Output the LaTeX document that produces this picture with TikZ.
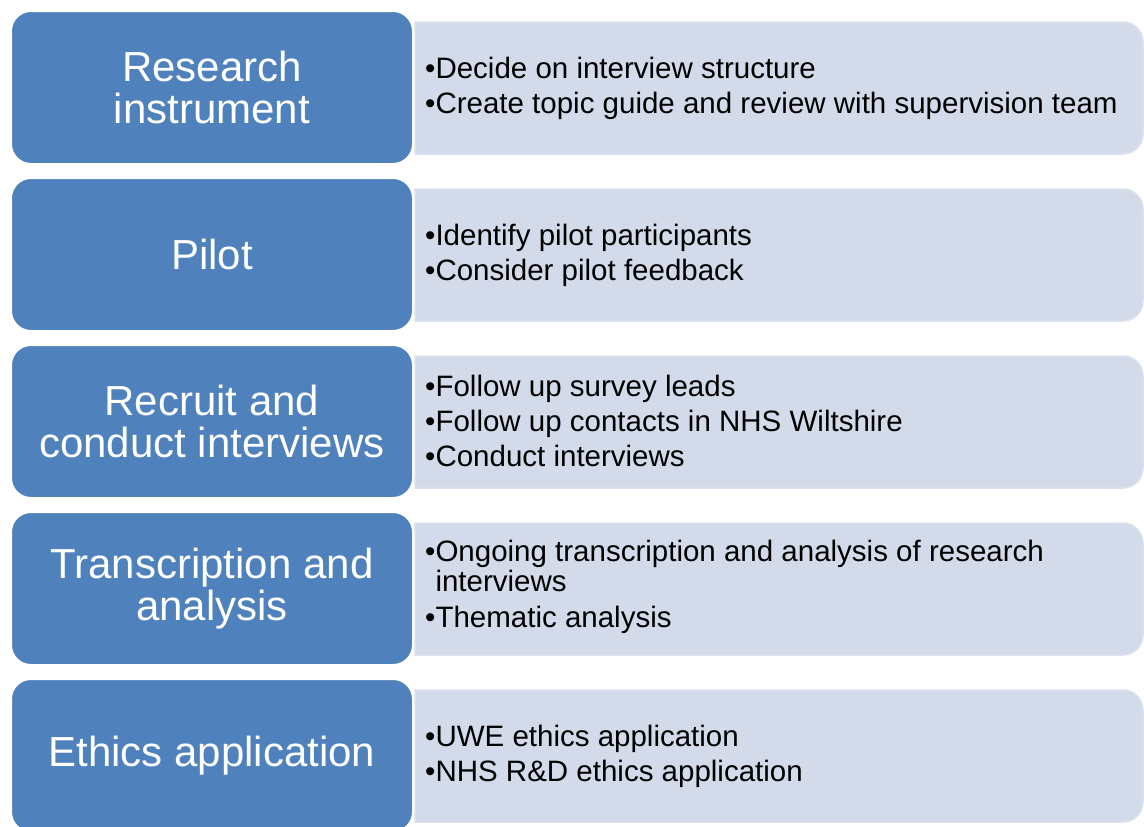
\documentclass[tikz,border=0pt]{standalone}
\usepackage{fontspec}
\setmainfont{Liberation Sans}
\definecolor{stepblue}{HTML}{4F81BD}
\definecolor{stepfill}{HTML}{D3DAEA}
\definecolor{stepedge}{HTML}{DCE1EE}
\tikzset{
  x=1pt, y=-1pt,
  headbox/.style={rectangle, rounded corners=20pt, fill=stepblue, draw=white, line width=2pt,
    minimum width=402pt, minimum height=153pt, inner sep=0pt, text=white, align=center,
    font=\fontsize{42}{42.5}\selectfont},
  detailbox/.style={fill=stepfill, draw=stepedge, line width=1.5pt},
  detailtext/.style={anchor=west, inner sep=0pt, align=left, text=black,
    font=\fontsize{29.5}{30.5}\selectfont},
}
\newcommand{\detailpath}[1]{% #1 top
  \path[detailbox] (415,#1) -- (1123,#1) arc(-90:0:20) -- (1143,#1+112) arc(0:90:20) -- (415,#1+132) -- cycle;
}
\begin{document}
\begin{tikzpicture}
\useasboundingbox (0,0) rectangle (1144,827);
\clip (0,0) rectangle (1144,827);
% detail panels
\detailpath{22}
\detailpath{189}
\detailpath{356}
\detailpath{523}
\detailpath{690}
% head boxes
\node[headbox] (h1) at (212,87.5) {Research\\instrument};
\node[headbox] (h2) at (212,254.5) {Pilot};
\node[headbox] (h3) at (212,421.5) {Recruit and\\conduct interviews};
\node[headbox] (h4) at (212,588.5) {Transcription and\\analysis};
\node[headbox] (h5) at (212,755.5) {Ethics application};
% detail texts
\node[detailtext] (t1) at (425,88) {•Decide on interview structure\\[4.5pt]•Create topic guide and review with supervision team};
\node[detailtext] (t2) at (425,255) {•Identify pilot participants\\[4.5pt]•Consider pilot feedback};
\node[detailtext] (t3) at (425,421) {•Follow up survey leads\\[4.5pt]•Follow up contacts in NHS Wiltshire\\[4.5pt]•Conduct interviews};
\node[detailtext] (t4) at (425,587) {•Ongoing transcription and analysis of research\\\hphantom{•}interviews\\[5.5pt]•Thematic analysis};
\node[detailtext] (t5) at (425,756) {•UWE ethics application\\[4.5pt]•NHS R\&D ethics application};
\end{tikzpicture}
\end{document}
